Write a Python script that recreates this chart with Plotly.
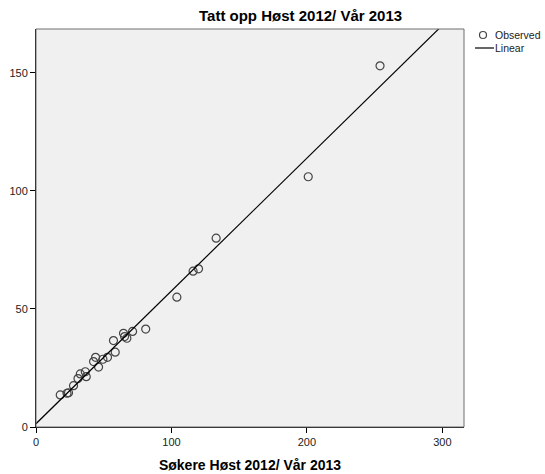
import numpy as np
import plotly.graph_objects as go

# Data
sokere = [254, 201, 133, 120, 116, 104, 81, 71.3, 67.1, 64.6, 65.4, 57.2, 58.5, 52.8,
          49.4, 46.2, 44, 42.5, 36.4, 37.1, 32.7, 31, 27.7, 24, 22.9, 17.9]
tatt_opp = [153, 106, 80, 67, 66, 55, 41.5, 40.5, 37.6, 39.7, 38.3, 36.6, 31.7, 29.5,
            28.7, 25.4, 29.5, 27.7, 23.4, 21.3, 22.5, 20.5, 17.5, 14.5, 14.3, 13.6]

x_ticks = [0, 100, 200, 300]
y_ticks = [0, 50, 100, 150]
x_range = [0, 316]
y_range = [0, 168.6]

title_text = "Tatt opp Høst 2012/ Vår 2013"
x_title = "Søkere Høst 2012/ Vår 2013"
legend_labels = ["Observed", "Linear"]

# Linear fit (OLS) across the axis range
slope, intercept = np.polyfit(sokere, tatt_opp, 1)
x_fit = np.array(x_range)
y_fit = intercept + slope * x_fit

W, H = 545, 474
L, R, T, B = 36, 81, 29, 47
PW, PH = W - L - R, H - T - B


def px(xp):
    return (xp - L) / PW


def py(yp):
    return (H - B - yp) / PH


font_family = "Liberation Sans, Arial, sans-serif"

fig = go.Figure()
fig.add_trace(go.Scatter(
    x=sokere, y=tatt_opp, mode="markers", name=legend_labels[0],
    marker=dict(symbol="circle-open", size=8, color="#444444", line=dict(width=1.2, color="#444444")),
    cliponaxis=False, showlegend=False,
))
fig.add_trace(go.Scatter(
    x=x_fit, y=y_fit, mode="lines", name=legend_labels[1],
    line=dict(color="#000000", width=1.2), showlegend=False,
))

fig.update_layout(
    width=W, height=H, autosize=False,
    margin=dict(l=L, r=R, t=T, b=B, pad=0, autoexpand=False),
    paper_bgcolor="white", plot_bgcolor="#F0F0F0",
    font=dict(family=font_family, size=10, color="#222222"),
    showlegend=False,
    annotations=[
        dict(text="<b>" + title_text + "</b>", xref="paper", yref="paper",
             x=px(300), y=1.0, xanchor="center", yanchor="bottom", yshift=3,
             showarrow=False, font=dict(size=15, color="#000000", family=font_family)),
        dict(text=legend_labels[0], xref="paper", yref="paper",
             x=px(493), y=py(35), xanchor="left", yanchor="middle",
             showarrow=False, font=dict(size=10.5, color="#222222", family=font_family)),
        dict(text=legend_labels[1], xref="paper", yref="paper",
             x=px(493), y=py(48), xanchor="left", yanchor="middle",
             showarrow=False, font=dict(size=10.5, color="#222222", family=font_family)),
    ],
    shapes=[
        dict(type="rect", xref="paper", yref="paper", x0=0, y0=0, x1=1, y1=1,
             line=dict(color="#6E6E6E", width=1), fillcolor="rgba(0,0,0,0)", layer="above"),
        dict(type="circle", xref="paper", yref="paper",
             xsizemode="pixel", ysizemode="pixel",
             xanchor=px(483), yanchor=py(35), x0=-3.5, x1=3.5, y0=-3.5, y1=3.5,
             line=dict(color="#444444", width=1.2), fillcolor="rgba(0,0,0,0)"),
        dict(type="line", xref="paper", yref="paper",
             x0=px(475), x1=px(494), y0=py(48), y1=py(48),
             line=dict(color="#000000", width=1.2)),
    ],
)

fig.update_xaxes(
    range=x_range, tickvals=x_ticks, ticktext=[str(v) for v in x_ticks],
    showgrid=False, zeroline=False, showline=True, linecolor="#000000", linewidth=1,
    ticks="outside", ticklen=5, tickcolor="#000000", tickwidth=1, automargin=False,
    tickfont=dict(size=11, color="#222222"),
    title=dict(text="<b>" + x_title + "</b>", font=dict(size=14, color="#000000"), standoff=12),
)
fig.update_yaxes(
    range=y_range, tickvals=y_ticks, ticktext=[str(v) for v in y_ticks],
    showgrid=False, zeroline=False, showline=True, linecolor="#000000", linewidth=1,
    ticks="outside", ticklen=5, tickcolor="#000000", tickwidth=1, automargin=False,
    tickfont=dict(size=11, color="#222222"),
)

fig.write_html("out.html", config={"displayModeBar": False})

# Remove the browser's default page margin so the figure sits at the window's corner
with open("out.html", "r", encoding="utf-8") as f:
    html = f.read()
html = html.replace("<head>", "<head><style>html,body{margin:0;padding:0;}</style>", 1)
with open("out.html", "w", encoding="utf-8") as f:
    f.write(html)
